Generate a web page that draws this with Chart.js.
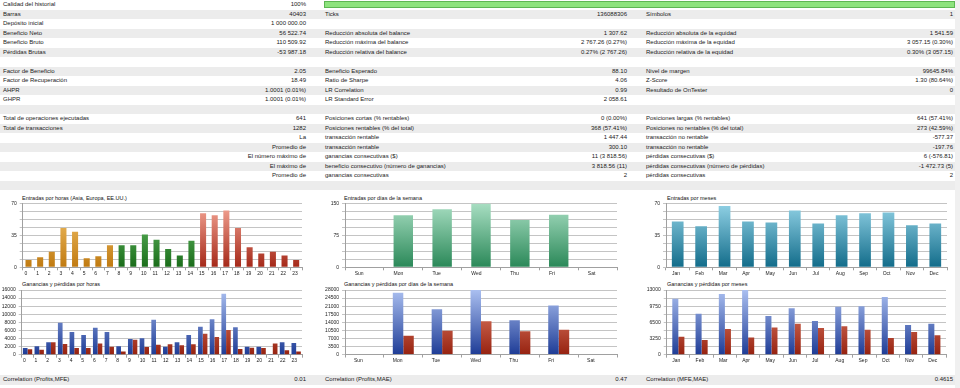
<!DOCTYPE html>
<html>
<head>
<meta charset="utf-8">
<script src="https://cdn.jsdelivr.net/npm/chart.js@4.4.1/dist/chart.umd.min.js"></script>
<style>
body{margin:0;width:960px;height:388px;overflow:hidden;background:#fff;position:relative;
  font-family:"Liberation Sans",Arial,sans-serif;font-size:6px;color:#1a1a1a}
.row{position:absolute;left:0;width:955px;height:9.5px;line-height:9.5px}
.row.g{background:#ececec}
.row span{position:absolute;top:0;white-space:nowrap}
.l1{left:3px}.v1{right:649px}.l2{left:325px}.v2{right:328px}.l3{left:646px}.v3{right:2px}
.ttl{position:absolute;font-size:5.5px;line-height:7px;white-space:nowrap;color:#111}
canvas{position:absolute}
#hist{position:absolute;left:324px;top:1px;width:629px;height:5px;background:#8de37d;border:1px solid #5db653}
#scroll{position:absolute;left:955px;top:0;width:5px;height:388px;background:#f0f0f0}
</style>
</head>
<body>
<div id="rows"></div>
<div id="hist"></div>
<div id="scroll"></div>

<div class="ttl" style="left:22px;top:195px">Entradas por horas (Asia, Europa, EE.UU.)</div>
<div class="ttl" style="left:344px;top:195px">Entradas por días de la semana</div>
<div class="ttl" style="left:667px;top:195px">Entradas por meses</div>
<div class="ttl" style="left:22px;top:281px">Ganancias y pérdidas por horas</div>
<div class="ttl" style="left:344px;top:281px">Ganancias y pérdidas por días de la semana</div>
<div class="ttl" style="left:667px;top:281px">Ganancias y pérdidas por meses</div>

<canvas id="hoursChart"></canvas>
<canvas id="daysChart"></canvas>
<canvas id="monthsChart"></canvas>
<canvas id="hoursPlChart"></canvas>
<canvas id="daysPlChart"></canvas>
<canvas id="monthsPlChart"></canvas>

<script>
// datos del informe
const hours = ['0','1','2','3','4','5','6','7','8','9','10','11','12','13','14','15','16','17','18','19','20','21','22','23'];
const days = ['Sun','Mon','Tue','Wed','Thu','Fri','Sat'];
const months = ['Jan','Feb','Mar','Apr','May','Jun','Jul','Aug','Sep','Oct','Nov','Dec'];

const entriesByHour = [8, 11, 17, 43, 39, 10, 12, 24, 24, 24, 36, 30, 20, 13, 29, 59, 57, 62, 43, 22, 15, 17, 13, 8];
const entriesByDay = [0, 122, 136, 149, 111, 123, 0];
const entriesByMonth = [50, 45, 67, 50, 49, 62, 48, 57, 59, 60, 46, 48];

const profitByHour = [1650, 2060, 3050, 7920, 5610, 4870, 6680, 5610, 2060, 3880, 4040, 8660, 1980, 3050, 4870, 6930, 8740, 15090, 6760, 1980, 1980, 60, 3050, 2890];
const lossByHour = [1320, 1240, 3050, 2640, 1650, 1650, 2800, 1980, 820, 3710, 1900, 2470, 2560, 2310, 2560, 5200, 4370, 6100, 1400, 1730, 1650, 2800, 1070, 820];
const profitByDay = [0, 26830, 19690, 28000, 14875, 21290, 0];
const lossByDay = [0, 8170, 10350, 14440, 10060, 10790, 0];
const profitByMonth = [11260, 8240, 12200, 13000, 7770, 9310, 6770, 9650, 9720, 11600, 5960, 6230];
const lossByMonth = [3620, 2950, 5160, 3480, 5490, 6230, 5360, 5700, 5030, 3350, 4560, 3890];

// filas de la tabla
const rows = [
  ['Calidad del historial', '100%'],
  ['Barras', '40403', 'Ticks', '136088306', 'Símbolos', '1'],
  ['Depósito inicial', '1 000 000.00'],
  ['Beneficio Neto', '56 522.74', 'Reducción absoluta del balance', '1 307.62', 'Reducción absoluta de la equidad', '1 541.59'],
  ['Beneficio Bruto', '110 509.92', 'Reducción máxima del balance', '2 767.26 (0.27%)', 'Reducción máxima de la equidad', '3 057.15 (0.30%)'],
  ['Pérdidas Brutas', '-53 987.18', 'Reducción relativa del balance', '0.27% (2 767.26)', 'Reducción relativa de la equidad', '0.30% (3 057.15)'],
  [],
  ['Factor de Beneficio', '2.05', 'Beneficio Esperado', '88.10', 'Nivel de margen', '99645.84%'],
  ['Factor de Recuperación', '18.49', 'Ratio de Sharpe', '4.06', 'Z-Score', '1.30 (80.64%)'],
  ['AHPR', '1.0001 (0.01%)', 'LR Correlation', '0.99', 'Resultado de OnTester', '0'],
  ['GHPR', '1.0001 (0.01%)', 'LR Standard Error', '2 058.61'],
  [],
  ['Total de operaciones ejecutadas', '641', 'Posiciones cortas (% rentables)', '0 (0.00%)', 'Posiciones largas (% rentables)', '641 (57.41%)'],
  ['Total de transacciones', '1282', 'Posiciones rentables (% del total)', '368 (57.41%)', 'Posiciones no rentables (% del total)', '273 (42.59%)'],
  ['', 'La', 'transacción rentable', '1 447.44', 'transacción no rentable', '-577.37'],
  ['', 'Promedio de', 'transacción rentable', '300.10', 'transacción no rentable', '-197.76'],
  ['', 'El número máximo de', 'ganancias consecutivas ($)', '11 (3 818.56)', 'pérdidas consecutivas ($)', '6 (-576.81)'],
  ['', 'El máximo de', 'beneficio consecutivo (número de ganancias)', '3 818.56 (11)', 'pérdidas consecutivas (número de pérdidas)', '-1 472.73 (5)'],
  ['', 'Promedio de', 'ganancias consecutivas', '2', 'pérdidas consecutivas', '2'],
  []
];
const corrRow = ['Correlation (Profits,MFE)', '0.01', 'Correlation (Profits,MAE)', '0.47', 'Correlation (MFE,MAE)', '0.4615'];

const cls = ['l1', 'v1', 'l2', 'v2', 'l3', 'v3'];
function addRow(cells, top, grey) {
  const d = document.createElement('div');
  d.className = 'row' + (grey ? ' g' : '');
  d.style.top = top + 'px';
  cells.forEach((t, i) => {
    if (!t) return;
    const s = document.createElement('span');
    s.className = cls[i];
    s.textContent = t;
    d.appendChild(s);
  });
  document.getElementById('rows').appendChild(d);
}
rows.forEach((r, i) => addRow(r, i * 9.5, i % 2 === 1));
addRow(corrRow, 375, true);

Chart.defaults.font.family = '"Liberation Sans", Arial, sans-serif';
Chart.defaults.font.size = 5;

function vgrad(top, bottom) {
  return function (ctx) {
    const a = ctx.chart.chartArea;
    if (!a) return bottom;
    const g = ctx.chart.ctx.createLinearGradient(0, a.top, 0, a.bottom);
    g.addColorStop(0, top);
    g.addColorStop(1, bottom);
    return g;
  };
}

const orange = vgrad('#f6c870', '#c07a10');
const green = vgrad('#70c870', '#1a6c1a');
const red = vgrad('#f6a898', '#a42818');
function sessionColor(ctx) {
  const i = ctx.dataIndex;
  if (i <= 7) return orange(ctx);
  if (i <= 14) return green(ctx);
  return red(ctx);
}

function makeChart(id, box, area, labels, datasets, yMax, yStep, yLabelStep, labelOffset) {
  const cv = document.getElementById(id);
  cv.style.left = box[0] + 'px';
  cv.style.top = box[1] + 'px';
  cv.width = box[2];
  cv.height = box[3];
  const yW = area[0] - box[0];
  const padT = area[1] - box[1];
  const padR = box[0] + box[2] - area[2];
  const xH = box[1] + box[3] - area[3];
  return new Chart(cv, {
    type: 'bar',
    data: { labels: labels, datasets: datasets },
    options: {
      responsive: false,
      animation: false,
      layout: { padding: { left: 0, top: padT, right: padR, bottom: 0 } },
      plugins: { legend: { display: false }, tooltip: { enabled: false } },
      scales: {
        x: {
          grid: { display: true, drawOnChartArea: false, offset: true, tickLength: 3, color: '#a0a0a0' },
          border: { color: '#a0a0a0' },
          ticks: { autoSkip: false, maxRotation: 0, align: 'start', labelOffset: labelOffset, padding: 0, color: '#222' },
          afterFit: s => { s.height = xH; }
        },
        y: {
          min: 0,
          max: yMax,
          grid: { color: '#c4c4c4', tickLength: 3 },
          border: { color: '#a0a0a0' },
          ticks: {
            stepSize: yStep,
            autoSkip: false,
            padding: 3,
            color: '#222',
            callback: v => Math.abs(v / yLabelStep - Math.round(v / yLabelStep)) < 1e-6 ? v : ''
          },
          afterFit: s => { s.width = yW; }
        }
      }
    }
  });
}

makeChart('hoursChart', [0, 190, 318, 88], [22.7, 203.3, 302, 267.3], hours,
  [{ data: entriesByHour, backgroundColor: sessionColor, barPercentage: 0.52, categoryPercentage: 1 }],
  70, 8.75, 35, -4);

makeChart('daysChart', [320, 190, 318, 88], [345, 203.3, 617, 267.3], days,
  [{ data: entriesByDay, backgroundColor: vgrad('#a8dec2', '#2a8858'), barPercentage: 0.5, categoryPercentage: 1 }],
  150, 18.75, 75, -9.7);

makeChart('monthsChart', [640, 190, 315, 88], [666, 203.3, 947, 267.3], months,
  [{ data: entriesByMonth, backgroundColor: vgrad('#92d2e6', '#126c8a'), barPercentage: 0.5, categoryPercentage: 1 }],
  70, 8.75, 35, -5.8);

const blue = vgrad('#aabff0', '#1e3c96');
const loss = vgrad('#f09078', '#962210');

makeChart('hoursPlChart', [0, 280, 318, 92], [21.7, 290, 302, 354.7], hours,
  [{ data: profitByHour, backgroundColor: blue, barPercentage: 1, categoryPercentage: 0.8 },
   { data: lossByHour, backgroundColor: loss, barPercentage: 1, categoryPercentage: 0.8 }],
  16000, 2000, 2000, -4.6);

makeChart('daysPlChart', [320, 280, 318, 92], [345, 290, 617, 354.5], days,
  [{ data: profitByDay, backgroundColor: blue, barPercentage: 1, categoryPercentage: 0.54 },
   { data: lossByDay, backgroundColor: loss, barPercentage: 1, categoryPercentage: 0.54 }],
  28000, 3500, 3500, -10.5);

makeChart('monthsPlChart', [640, 280, 315, 92], [666.7, 290, 946, 354.7], months,
  [{ data: profitByMonth, backgroundColor: blue, barPercentage: 1, categoryPercentage: 0.52 },
   { data: lossByMonth, backgroundColor: loss, barPercentage: 1, categoryPercentage: 0.52 }],
  13000, 1625, 3250, -6);
</script>
</body>
</html>
